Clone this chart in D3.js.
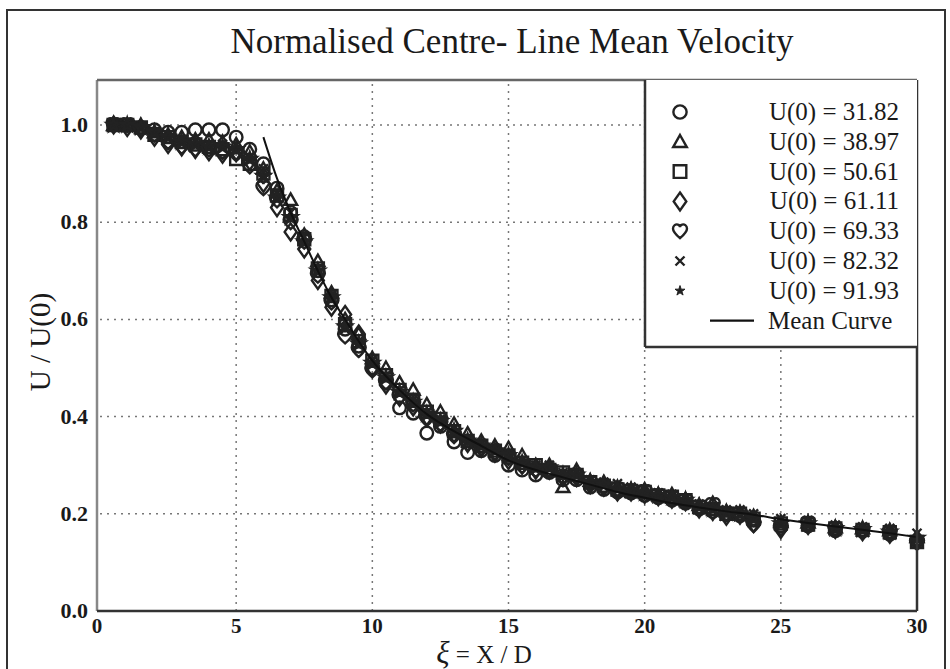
<!DOCTYPE html>
<html lang="en">
<head>
<meta charset="UTF-8">
<title>Normalised Centre- Line Mean Velocity</title>
<script src="https://d3js.org/d3.v7.min.js"></script>
<style>
  body { margin: 0; background: #fff; }
  svg text { font-family: "Liberation Serif", "Times New Roman", serif; fill: #1a1a1a; }
</style>
</head>
<body>
<div id="chart"></div>
<script>
// stations along the jet axis (X/D)
var xs = [0.5, 1, 1.5, 2, 2.5, 3, 3.5, 4, 4.5, 5,
          5.5, 6, 6.5, 7, 7.5, 8, 8.5, 9, 9.5, 10,
          10.5, 11, 11.5, 12, 12.5, 13, 13.5, 14, 14.5, 15,
          15.5, 16, 16.5, 17, 17.5, 18, 18.5, 19, 19.5, 20,
          20.5, 21, 21.5, 22, 22.5, 23, 23.5, 24, 25, 26,
          27, 28, 29, 30];

// U/U(0) for each run
var u3182 = [1.0, 1.0, 0.995, 0.99, 0.985, 0.985, 0.99, 0.99, 0.99, 0.975,
             0.95, 0.92, 0.87, 0.82, 0.77, 0.70, 0.64, 0.58, 0.545, 0.50,
             0.47, 0.418, 0.407, 0.366, 0.38, 0.348, 0.326, 0.33, 0.32, 0.30,
             0.29, 0.28, 0.285, 0.27, 0.27, 0.255, 0.25, 0.245, 0.243, 0.238,
             0.233, 0.228, 0.222, 0.21, 0.205, 0.198, 0.196, 0.187, 0.175, 0.175,
             0.165, 0.164, 0.158, 0.145];
var u3897 = [1.0, 1.0, 1.0, 0.985, 0.98, 0.975, 0.97, 0.97, 0.965, 0.96,
             0.945, 0.91, 0.865, 0.846, 0.774, 0.72, 0.655, 0.60, 0.57, 0.52,
             0.50, 0.47, 0.455, 0.425, 0.41, 0.385, 0.365, 0.35, 0.34, 0.335,
             0.32, 0.30, 0.30, 0.255, 0.29, 0.268, 0.265, 0.255, 0.25, 0.25,
             0.24, 0.24, 0.23, 0.218, 0.222, 0.205, 0.203, 0.195, 0.183, 0.182,
             0.172, 0.17, 0.166, 0.152];
var u5061 = [1.0, 1.0, 0.995, 0.98, 0.975, 0.965, 0.96, 0.955, 0.95, 0.93,
             0.92, 0.90, 0.855, 0.815, 0.765, 0.705, 0.648, 0.59, 0.555, 0.515,
             0.485, 0.455, 0.435, 0.41, 0.395, 0.37, 0.35, 0.34, 0.33, 0.32,
             0.305, 0.30, 0.29, 0.285, 0.28, 0.265, 0.258, 0.25, 0.247, 0.245,
             0.238, 0.235, 0.228, 0.214, 0.21, 0.20, 0.20, 0.19, 0.18, 0.178,
             0.17, 0.167, 0.162, 0.142];
var u6111 = [1.0, 0.995, 0.99, 0.975, 0.96, 0.955, 0.95, 0.945, 0.94, 0.945,
             0.925, 0.88, 0.83, 0.78, 0.745, 0.68, 0.625, 0.61, 0.57, 0.50,
             0.465, 0.44, 0.42, 0.40, 0.385, 0.365, 0.345, 0.335, 0.325, 0.31,
             0.30, 0.29, 0.29, 0.275, 0.275, 0.26, 0.255, 0.245, 0.245, 0.24,
             0.235, 0.23, 0.225, 0.21, 0.205, 0.195, 0.197, 0.18, 0.168, 0.176,
             0.168, 0.163, 0.158, 0.148];
var u6933 = [1.0, 1.0, 0.99, 0.98, 0.965, 0.955, 0.95, 0.95, 0.945, 0.94,
             0.915, 0.87, 0.845, 0.80, 0.76, 0.69, 0.635, 0.565, 0.537, 0.495,
             0.47, 0.44, 0.425, 0.395, 0.385, 0.36, 0.345, 0.335, 0.325, 0.315,
             0.298, 0.29, 0.29, 0.275, 0.278, 0.262, 0.255, 0.25, 0.245, 0.245,
             0.236, 0.232, 0.226, 0.213, 0.218, 0.20, 0.198, 0.177, 0.17, 0.18,
             0.168, 0.165, 0.16, 0.14];
var u8232 = [1.0, 1.0, 0.995, 0.985, 0.975, 0.97, 0.965, 0.96, 0.96, 0.95,
             0.935, 0.91, 0.86, 0.82, 0.77, 0.705, 0.65, 0.58, 0.55, 0.515,
             0.485, 0.455, 0.435, 0.41, 0.395, 0.375, 0.355, 0.345, 0.335, 0.325,
             0.31, 0.30, 0.30, 0.285, 0.285, 0.27, 0.265, 0.262, 0.255, 0.25,
             0.243, 0.24, 0.232, 0.22, 0.215, 0.208, 0.208, 0.20, 0.19, 0.186,
             0.177, 0.173, 0.17, 0.16];
var u9193 = [1.0, 1.0, 0.995, 0.985, 0.975, 0.965, 0.96, 0.955, 0.955, 0.95,
             0.93, 0.895, 0.85, 0.81, 0.76, 0.70, 0.645, 0.585, 0.55, 0.51,
             0.48, 0.45, 0.43, 0.405, 0.39, 0.37, 0.35, 0.34, 0.33, 0.32,
             0.305, 0.295, 0.295, 0.28, 0.28, 0.265, 0.26, 0.252, 0.248, 0.243,
             0.238, 0.234, 0.228, 0.215, 0.21, 0.202, 0.20, 0.19, 0.18, 0.18,
             0.17, 0.168, 0.163, 0.15];

// mean curve
var meanX = [6, 6.5, 7, 7.5, 8, 8.5, 9, 9.5, 10, 11, 12, 13, 14, 15, 16, 17, 18, 19, 20,
             21, 22, 23, 24, 25, 26, 27, 28, 29, 30];
var meanU = [0.975, 0.89, 0.82, 0.76, 0.70, 0.645, 0.60, 0.555, 0.515, 0.455, 0.405, 0.37, 0.34, 0.31,
             0.29, 0.275, 0.26, 0.245, 0.233, 0.222, 0.213, 0.205, 0.198, 0.189, 0.181, 0.174,
             0.167, 0.16, 0.152];

var labels = ["U(0) = 31.82", "U(0) = 38.97", "U(0) = 50.61", "U(0) = 61.11",
              "U(0) = 69.33", "U(0) = 82.32", "U(0) = 91.93"];
var shapes = ["circle", "triangle", "square", "diamond", "heart", "cross", "star"];
var xTicks = [0, 5, 10, 15, 20, 25, 30];
var yTicks = [0, 0.2, 0.4, 0.6, 0.8, 1.0];

var runs = [u3182, u3897, u5061, u6111, u6933, u8232, u9193];

var W = 950, H = 669;
var svg = d3.select("#chart").append("svg")
    .attr("width", W).attr("height", H);

// outer page border
svg.append("rect")
    .attr("x", 7).attr("y", 10).attr("width", 938).attr("height", 680)
    .attr("fill", "none").attr("stroke", "#333").attr("stroke-width", 2);

var x = d3.scaleLinear().domain([0, 30]).range([100, 917]);
var y = d3.scaleLinear().domain([0, 1]).range([611, 125]);
var yTop = y.invert(80);

// title
svg.append("text")
    .attr("x", 512).attr("y", 53)
    .attr("text-anchor", "middle")
    .style("font-size", "35px")
    .text("Normalised Centre- Line Mean Velocity");

// grid
var grid = svg.append("g");
grid.selectAll(".gy").data(yTicks.slice(1)).enter().append("line")
    .attr("x1", x(0)).attr("x2", x(30))
    .attr("y1", function(d) { return y(d); }).attr("y2", function(d) { return y(d); })
    .attr("stroke", "#777").attr("stroke-width", 1.5).attr("stroke-dasharray", "2,5");
grid.selectAll(".gx").data(xTicks.slice(1, -1)).enter().append("line")
    .attr("y1", y(0)).attr("y2", y(yTop))
    .attr("x1", function(d) { return x(d); }).attr("x2", function(d) { return x(d); })
    .attr("stroke", "#777").attr("stroke-width", 1.5).attr("stroke-dasharray", "2,5");

// symbol paths
function symbolPath(t, k) {
  k = k || 1;
  if (t === "circle") return d3.symbol(d3.symbolCircle, 125 * k * k)();
  if (t === "triangle") return "M0," + (-6.5 * k) + "L" + (6.5 * k) + "," + (5 * k) + "L" + (-6.5 * k) + "," + (5 * k) + "Z";
  if (t === "square") return "M" + (-6 * k) + "," + (-6 * k) + "H" + (6 * k) + "V" + (6 * k) + "H" + (-6 * k) + "Z";
  if (t === "diamond") return "M0," + (-8.5 * k) + "L" + (6 * k) + ",0L0," + (8.5 * k) + "L" + (-6 * k) + ",0Z";
  if (t === "heart") return "M0,7C-4,3.5 -7,0.5 -7,-2.5C-7,-5.8 -4.2,-7.3 -2.2,-6.6C-1,-6.2 0,-5 0,-4C0,-5 1,-6.2 2.2,-6.6C4.2,-7.3 7,-5.8 7,-2.5C7,0.5 4,3.5 0,7Z";
  if (t === "cross") return "M-4.5,-4.5L4.5,4.5M-4.5,4.5L4.5,-4.5";
  return d3.symbol(d3.symbolStar, 55 * k * k)();
}

// data points
runs.forEach(function(vals, i) {
  var pts = xs.map(function(xv, j) { return [xv, vals[j]]; })
      .filter(function(p) { return p[1] != null; });
  svg.append("g").selectAll("path").data(pts).enter().append("path")
      .attr("transform", function(d) { return "translate(" + x(d[0]) + "," + y(d[1]) + ")"; })
      .attr("d", symbolPath(shapes[i]))
      .attr("fill", shapes[i] === "star" ? "#222" : "none")
      .attr("stroke", "#222")
      .attr("stroke-width", 2.4);
});

// mean curve
var line = d3.line()
    .x(function(d, i) { return x(meanX[i]); })
    .y(function(d) { return y(d); })
    .curve(d3.curveMonotoneX);
svg.append("path").datum(meanU)
    .attr("d", line)
    .attr("fill", "none").attr("stroke", "#111").attr("stroke-width", 2);

// frame
svg.append("line").attr("x1", x(0) - 3).attr("x2", x(0) - 3).attr("y1", y(yTop)).attr("y2", y(0))
    .attr("stroke", "#888").attr("stroke-width", 2.5);
svg.append("line").attr("x1", x(0) - 3).attr("x2", x(30)).attr("y1", y(yTop)).attr("y2", y(yTop))
    .attr("stroke", "#666").attr("stroke-width", 2.5);
svg.append("line").attr("x1", x(0) - 3).attr("x2", x(30)).attr("y1", y(0)).attr("y2", y(0))
    .attr("stroke", "#333").attr("stroke-width", 2.5);
svg.append("line").attr("x1", x(30)).attr("x2", x(30)).attr("y1", y(yTop)).attr("y2", y(0))
    .attr("stroke", "#333").attr("stroke-width", 2.5);

// ticks
svg.append("g").selectAll("text").data(yTicks).enter().append("text")
    .attr("x", 88).attr("y", function(d) { return y(d) + 7; })
    .attr("text-anchor", "end")
    .style("font-size", "22px").style("font-weight", "bold")
    .text(function(d) { return d3.format(".1f")(d); });
svg.append("g").selectAll("text").data(xTicks).enter().append("text")
    .attr("x", function(d) { return x(d) - (d === 0 ? 3 : 0); }).attr("y", 633)
    .attr("text-anchor", "middle")
    .style("font-size", "21px").style("font-weight", "bold")
    .text(function(d) { return d; });

// axis titles
svg.append("text")
    .attr("transform", "translate(50,342) rotate(-90)")
    .attr("text-anchor", "middle")
    .style("font-size", "29px")
    .text("U / U(0)");
var xl = svg.append("text").attr("x", 484).attr("y", 663).attr("text-anchor", "middle");
xl.append("tspan").style("font-size", "31px").style("font-style", "italic").text("ξ");
xl.append("tspan").style("font-size", "25px").text(" = X / D");

// legend
var lg = svg.append("g");
lg.append("rect").attr("x", 645).attr("y", y(yTop)).attr("width", x(30) - 645).attr("height", 347 - y(yTop))
    .attr("fill", "#fff").attr("stroke", "none");
lg.append("line").attr("x1", 645).attr("x2", 645).attr("y1", y(yTop)).attr("y2", 347)
    .attr("stroke", "#333").attr("stroke-width", 2.5);
lg.append("line").attr("x1", 645).attr("x2", x(30)).attr("y1", 347).attr("y2", 347)
    .attr("stroke", "#333").attr("stroke-width", 2.5);
labels.forEach(function(lab, i) {
  var cy = 112 + i * 29.8;
  lg.append("path")
      .attr("transform", "translate(680," + cy + ")")
      .attr("d", symbolPath(shapes[i], shapes[i] === "star" ? 0.75 : 1.05))
      .attr("fill", shapes[i] === "star" ? "#222" : "none")
      .attr("stroke", "#222").attr("stroke-width", shapes[i] === "star" ? 1 : 2.4);
  lg.append("text").attr("x", 899).attr("y", cy + 8)
      .attr("text-anchor", "end").style("font-size", "25px").text(lab);
});
var cyM = 112 + 7 * 29.8;
lg.append("line").attr("x1", 710).attr("x2", 754).attr("y1", cyM).attr("y2", cyM)
    .attr("stroke", "#111").attr("stroke-width", 2.2);
lg.append("text").attr("x", 768).attr("y", cyM + 8).style("font-size", "25px").text("Mean Curve");
</script>
</body>
</html>
